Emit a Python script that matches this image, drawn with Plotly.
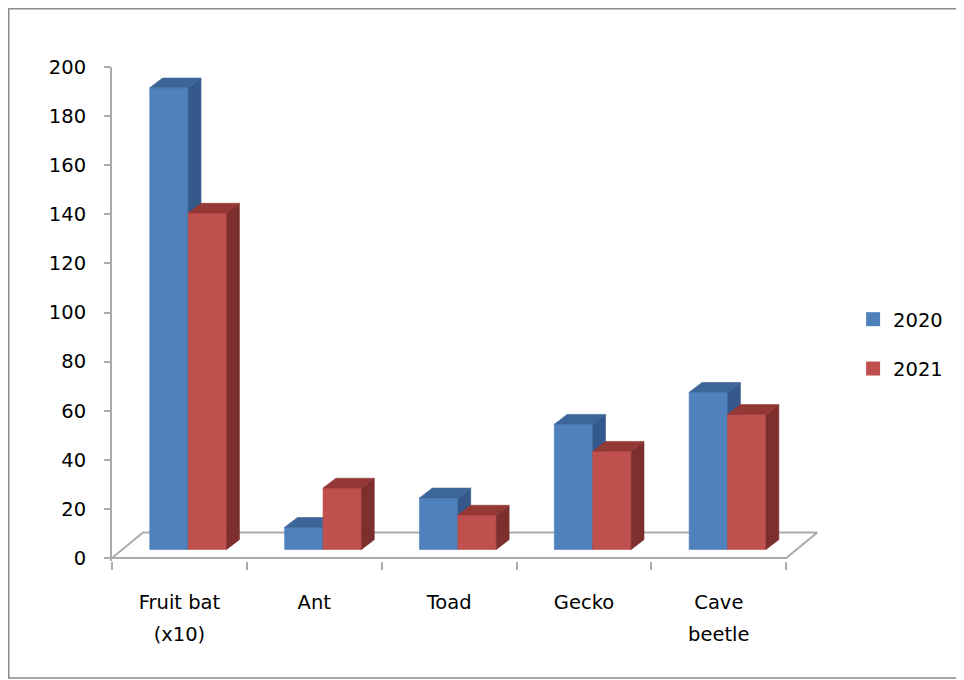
import plotly.graph_objects as go

# ---- data ----
categories = ["Fruit bat<br>(x10)", "Ant", "Toad", "Gecko", "Cave<br>beetle"]
series_names = ["2020", "2021"]
values_2020 = [188, 9, 21, 51, 64]
values_2021 = [137, 25, 14, 40, 55]
y_ticks = [0, 20, 40, 60, 80, 100, 120, 140, 160, 180, 200]

# first / second line of each category label
line1 = [c.split("<br>")[0] for c in categories]
line2 = [c.split("<br>")[1] if "<br>" in c else "" for c in categories]

# ---- style / geometry (3D-look parameters in axis units) ----
BAR_W = 0.285
PAIR_SHIFT = 0.065
DX = 0.095
DY = 4.0
BASE = 3.5
FLOOR_DX = 0.23
FLOOR_DY = 10.4
FONT = "DejaVu Sans"
FS = 19.5
GRAY = "#ABABAB"
colors = {
    "2020": {"front": "#4F81BD", "side": "#34598A", "top": "#3C6598"},
    "2021": {"front": "#C0504D", "side": "#7C2F2D", "top": "#943836"},
}

W, H = 956, 672
ML, MR, MT, MB = 104, 140, 59, 119
PW, PH = W - ML - MR, H - MT - MB

fig = go.Figure()

n = len(categories)
# floor of the 3D plot area
fx = [-0.5, n - 0.5, n - 0.5 + FLOOR_DX, -0.5 + FLOOR_DX, -0.5]
fy = [0, 0, FLOOR_DY, FLOOR_DY, 0]
fig.add_trace(go.Scatter(x=fx, y=fy, mode="lines", line=dict(color=GRAY, width=2),
                         hoverinfo="skip", showlegend=False))

for s, (name, vals) in enumerate(zip(series_names, [values_2020, values_2021])):
    fronts_x, fronts_y, sides_x, sides_y, tops_x, tops_y = [], [], [], [], [], []
    for i, v in enumerate(vals):
        left = i + PAIR_SHIFT - BAR_W + s * BAR_W
        right = left + BAR_W
        b = BASE
        t = BASE + v
        fronts_x += [left, right, right, left, left, None]
        fronts_y += [b, b, t, t, b, None]
        sides_x += [right, right + DX, right + DX, right, right, None]
        sides_y += [b, b + DY, t + DY, t, b, None]
        tops_x += [left, left + DX, right + DX, right, left, None]
        tops_y += [t, t + DY, t + DY, t, t, None]
    c = colors[name]
    for xs, ys, col in [(fronts_x, fronts_y, c["front"]),
                        (sides_x, sides_y, c["side"]),
                        (tops_x, tops_y, c["top"])]:
        fig.add_trace(go.Scatter(x=xs, y=ys, mode="lines", fill="toself",
                                 fillcolor=col, line=dict(color=col, width=0.6),
                                 hoverinfo="skip", showlegend=False))

# legend entries
for name in series_names:
    fig.add_trace(go.Scatter(x=[None], y=[None], mode="markers", name=name,
                             legendgroup=name, xaxis="x2",
                             marker=dict(symbol="square", size=14,
                                         color=colors[name]["front"])))

fig.update_layout(
    width=W, height=H,
    margin=dict(l=ML, r=MR, t=MT, b=MB),
    paper_bgcolor="white", plot_bgcolor="white",
    font=dict(family=FONT, size=FS, color="black"),
    showlegend=True,
    legend=dict(xref="container", yref="container", x=0.884, y=0.5,
                xanchor="left", yanchor="middle", tracegroupgap=21,
                font=dict(family=FONT, size=FS, color="black")),
    xaxis=dict(range=[-0.5, n - 0.5 + 0.28], showgrid=False, zeroline=False,
               showline=False, tickvals=list(range(n)), ticktext=line1,
               ticks="", ticklabelstandoff=27,
               minor=dict(tickvals=[k - 0.5 for k in range(n + 1)], ticks="outside",
                          ticklen=8, tickcolor=GRAY, tickwidth=2, showgrid=False)),
    xaxis2=dict(overlaying="x", matches="x", anchor="y", side="bottom",
                showgrid=False, zeroline=False, showline=False,
                tickvals=list(range(n)), ticktext=line2, ticks="",
                ticklabelstandoff=59),
    yaxis=dict(range=[-1.2, 200], tickvals=y_ticks, showgrid=False, zeroline=False,
               showline=True, linecolor=GRAY, linewidth=2, ticks="outside",
               ticklen=6, tickcolor=GRAY, tickwidth=2, ticklabelstandoff=14),
    shapes=[dict(type="rect", xref="paper", yref="paper",
                 x0=(0.75 - ML) / PW, x1=(955 - ML) / PW,
                 y0=(MT + PH - 670) / PH, y1=(MT + PH - 0.75) / PH,
                 line=dict(color="#8C8C8C", width=1.5), fillcolor="rgba(0,0,0,0)")],
)

fig.write_html("out.html")
